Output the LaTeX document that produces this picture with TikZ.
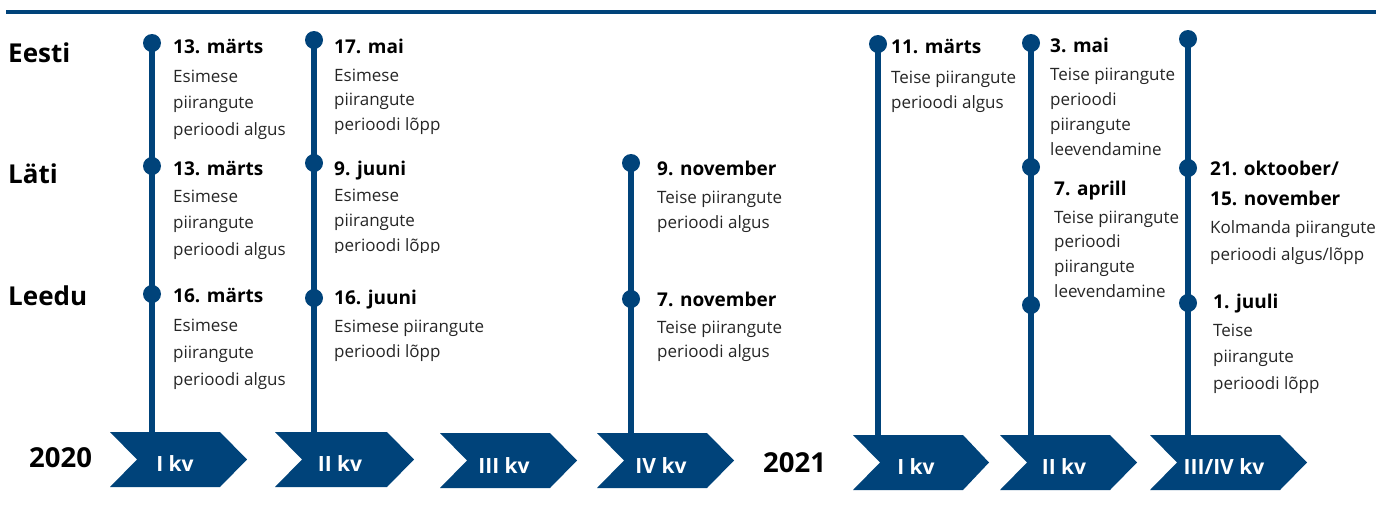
\documentclass[tikz,border=0pt]{standalone}
\usepackage{fontspec}
\setmainfont{Open Sans}
\definecolor{navy}{RGB}{0,67,122}
% one text line per node, first baseline #3, line step #4
\newcommand\desclines[5]{%
  \foreach \t [count=\i] in {#5}{\node[desc] (#1\i) at (#2,{#3+#4*(\i-1)}) {\t};}}
\begin{document}
\begin{tikzpicture}[x=1pt,y=-1pt,
  dot/.style={circle,fill=navy,inner sep=0pt,minimum size=18pt},
  stem/.style={draw=navy,line width=6pt},
  qlabel/.style={text=white,font=\fontsize{21}{24}\bfseries\selectfont,inner sep=0pt,anchor=base},
  date/.style={font=\fontsize{19}{22}\bfseries\selectfont,inner sep=0pt,anchor=base west},
  desc/.style={text=black!85,font=\fontsize{17}{20}\selectfont,inner sep=0pt,anchor=base west},
  country/.style={font=\fontsize{26}{30}\bfseries\selectfont,inner sep=0pt,anchor=base west},
  year/.style={font=\fontsize{27.5}{32}\bfseries\selectfont,inner sep=0pt,anchor=base west}]
\useasboundingbox (0,0) rectangle (1393,506);

% header rule
\draw[navy,line width=4pt] (6,12) -- (1376,12);

% row and year labels
\node[country] (eesti) at (8,62) {Eesti};
\node[country] (lati) at (8,183) {Läti};
\node[country] (leedu) at (8,305) {Leedu};
\node[year] (y2020) at (29,467) {2020};
\node[year] (y2021) at (763,472) {2021};

% event dots
\node[dot] (d1a) at (152,43) {};
\node[dot] (d1b) at (152,166) {};
\node[dot] (d1c) at (152,294) {};
\node[dot] (d2a) at (314,40) {};
\node[dot] (d2b) at (314,163) {};
\node[dot] (d2c) at (314,298) {};
\node[dot] (d3b) at (631,163) {};
\node[dot] (d3c) at (631,299) {};
\node[dot] (d4a) at (878,44) {};
\node[dot] (d5a) at (1031,43) {};
\node[dot] (d5b) at (1031,167) {};
\node[dot] (d5c) at (1031,305) {};
\node[dot] (d6a) at (1188,39) {};
\node[dot] (d6b) at (1188,168) {};
\node[dot] (d6c) at (1188,303) {};

% stem feet on the quarter arrows
\coordinate (f1) at (152,432);
\coordinate (f2) at (314,432);
\coordinate (f3) at (631,433);
\coordinate (f4) at (878,435);
\coordinate (f5) at (1031,435);
\coordinate (f6) at (1188,435);

\draw[stem] (d1a.center) -- (f1);
\draw[stem] (d2a.center) -- (f2);
\draw[stem] (d3b.center) -- (f3);
\draw[stem] (d4a.center) -- (f4);
\draw[stem] (d5a.center) -- (f5);
\draw[stem] (d6a.center) -- (f6);

% quarter arrows
\fill[navy] (110,432) -- (220,432) -- (247,459.5) -- (220,487) -- (110,487) -- (137,459.5) -- cycle;
\fill[navy] (275,432) -- (387,432) -- (414,459.5) -- (387,487) -- (275,487) -- (302,459.5) -- cycle;
\fill[navy] (440,433) -- (550,433) -- (577,460.5) -- (550,488) -- (440,488) -- (467,460.5) -- cycle;
\fill[navy] (597,433) -- (707,433) -- (734,460.5) -- (707,488) -- (597,488) -- (624,460.5) -- cycle;
\fill[navy] (853,435) -- (963,435) -- (989,462.5) -- (963,490) -- (853,490) -- (880,462.5) -- cycle;
\fill[navy] (1000,435) -- (1110,435) -- (1137,462.5) -- (1110,490) -- (1000,490) -- (1027,462.5) -- cycle;
\fill[navy] (1150,435) -- (1280,435) -- (1307,462.5) -- (1280,490) -- (1150,490) -- (1177,462.5) -- cycle;

\node[qlabel] (q1) at (175,471) {I kv};
\node[qlabel] (q2) at (340,471) {II kv};
\node[qlabel] (q3) at (504,473) {III kv};
\node[qlabel] (q4) at (661,473) {IV kv};
\node[qlabel] (r1) at (916,474) {I kv};
\node[qlabel] (r2) at (1064,474) {II kv};
\node[qlabel] (r3) at (1224,474) {III/IV kv};

% Eesti
\node[date] (e1) at (173,53) {13. märts};
\desclines{e1l}{173}{82}{26.5}{Esimese,piirangute,perioodi algus}
\node[date] (e2) at (334,53) {17. mai};
\desclines{e2l}{334}{81}{24.5}{Esimese,piirangute,perioodi lõpp}
\node[date] (e4) at (891,53) {11. märts};
\desclines{e4l}{891}{83}{25}{Teise piirangute,perioodi algus}
\node[date] (e5) at (1050,52) {3. mai};
\desclines{e5l}{1050}{80}{25.3}{Teise piirangute,perioodi,piirangute,leevendamine}

% Läti
\node[date] (l1) at (173,175) {13. märts};
\desclines{l1l}{173}{202}{26.5}{Esimese,piirangute,perioodi algus}
\node[date] (l2) at (334,175) {9. juuni};
\begin{scope}
  \clip (320,150) rectangle (520,252);
  \desclines{l2l}{334}{201}{25}{Esimese,piirangute,perioodi lõpp}
\end{scope}
\node[date] (l3) at (657,175) {9. november};
\desclines{l3l}{657}{203}{25}{Teise piirangute,perioodi algus}
\node[date] (l5) at (1054,195) {7. aprill};
\desclines{l5l}{1054}{223}{24.7}{Teise piirangute,perioodi,piirangute,leevendamine}
\node[date] (l6a) at (1210,175) {21. oktoober/};
\node[date] (l6b) at (1210,205) {15. november};
\desclines{l6l}{1210}{233}{27}{Kolmanda piirangute,perioodi algus/lõpp}

% Leedu
\node[date] (t1) at (173,302) {16. märts};
\desclines{t1l}{173}{331}{27}{Esimese,piirangute,perioodi algus}
\node[date] (t2) at (334,304) {16. juuni};
\desclines{t2l}{334}{332}{25}{Esimese piirangute,perioodi lõpp}
\node[date] (t3) at (657,306) {7. november};
\desclines{t3l}{657}{333}{24.5}{Teise piirangute,perioodi algus}
\node[date] (t6) at (1213,308) {1. juuli};
\desclines{t6l}{1213}{336}{26.5}{Teise,piirangute,perioodi lõpp}
\end{tikzpicture}
\end{document}
